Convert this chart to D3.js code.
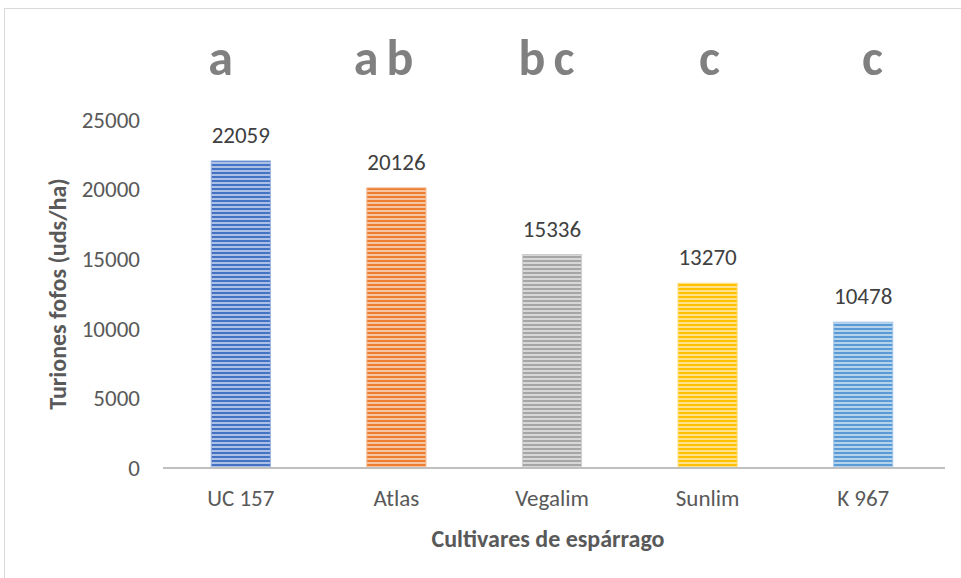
<!DOCTYPE html>
<html lang="en">
<head>
  <meta charset="utf-8">
  <title>Turiones fofos</title>
  <script src="https://d3js.org/d3.v7.min.js"></script>
  <style>
    body { margin: 0; background: #fff; }
    svg { font-family: Carlito, Calibri, "Open Sans", sans-serif; }
  </style>
</head>
<body>
<script>
  // data
  var cultivars = ["UC 157", "Atlas", "Vegalim", "Sunlim", "K 967"];
  var values = [22059, 20126, 15336, 13270, 10478];
  var letters = ["a", "ab", "bc", "c", "c"];
  var barColors = ["#4472C4", "#ED7D31", "#A5A5A5", "#FFC000", "#5B9BD5"];
  var yTicks = [0, 5000, 10000, 15000, 20000, 25000];

  var width = 961, height = 578;
  var font = "Carlito, Calibri, 'Open Sans', sans-serif";

  var svg = d3.select("body").append("svg")
      .attr("width", width)
      .attr("height", height);

  // chart border
  svg.append("rect")
      .attr("x", 4.5).attr("y", 8.5)
      .attr("width", 980).attr("height", 600)
      .attr("fill", "none")
      .attr("stroke", "#D9D9D9");

  var x = d3.scaleBand()
      .domain(cultivars)
      .range([163, 941])
      .paddingInner(0.62)
      .paddingOuter(0.31);

  // the letters row sits in its own, slightly wider text strip
  var xLetters = d3.scaleBand()
      .domain(cultivars)
      .range([139, 954]);

  var y = d3.scaleLinear()
      .domain([0, 25000])
      .range([468, 120]);

  // striped fills
  var defs = svg.append("defs");
  barColors.forEach(function(c, i) {
    var p = defs.append("pattern")
        .attr("id", "stripe" + i)
        .attr("patternUnits", "userSpaceOnUse")
        .attr("width", 8).attr("height", 4);
    p.append("rect").attr("width", 8).attr("height", 4)
        .attr("fill", d3.interpolateRgb(c, "#fff")(0.55));
    p.append("rect").attr("width", 8).attr("height", 2)
        .attr("fill", c);
  });

  // y axis labels
  var yAxis = svg.append("g")
      .attr("transform", "translate(150,0)")
      .call(d3.axisLeft(y).tickValues(yTicks).tickFormat(d3.format("d"))
        .tickSize(0).tickPadding(10));
  yAxis.select(".domain").remove();
  yAxis.selectAll("text")
      .attr("font-family", font)
      .attr("font-size", 23)
      .attr("fill", "#595959");

  // bars
  svg.append("g").selectAll("rect")
      .data(values)
      .enter().append("rect")
      .attr("x", function(d, i) { return x(cultivars[i]); })
      .attr("y", function(d) { return y(d); })
      .attr("width", x.bandwidth())
      .attr("height", function(d) { return y(0) - y(d); })
      .attr("fill", function(d, i) { return "url(#stripe" + i + ")"; })
      .attr("stroke", function(d, i) { return d3.interpolateRgb(barColors[i], "#fff")(0.45); })
      .attr("stroke-width", 1);

  // baseline
  svg.append("line")
      .attr("x1", 163).attr("x2", 945)
      .attr("y1", y(0)).attr("y2", y(0))
      .attr("stroke", "#BFBFBF")
      .attr("stroke-width", 2);

  // x axis labels
  var xAxis = svg.append("g")
      .attr("transform", "translate(0," + y(0) + ")")
      .call(d3.axisBottom(x).tickSize(0).tickPadding(22));
  xAxis.select(".domain").remove();
  xAxis.selectAll("text")
      .attr("font-family", font)
      .attr("font-size", 23)
      .attr("fill", "#595959");

  // value labels
  svg.append("g").selectAll("text")
      .data(values)
      .enter().append("text")
      .attr("x", function(d, i) { return x(cultivars[i]) + x.bandwidth() / 2; })
      .attr("y", function(d) { return y(d) - 18; })
      .attr("text-anchor", "middle")
      .attr("font-size", 23)
      .attr("fill", "#404040")
      .text(function(d) { return d; });

  // significance letters
  svg.append("g").selectAll("text")
      .data(letters)
      .enter().append("text")
      .attr("x", function(d, i) { return xLetters(cultivars[i]) + xLetters.bandwidth() / 2 + 4; })
      .attr("y", 75)
      .attr("text-anchor", "middle")
      .attr("font-size", 50)
      .attr("font-weight", "bold")
      .attr("letter-spacing", 8)
      .attr("fill", "#808080")
      .text(function(d) { return d; });

  // axis titles
  svg.append("text")
      .attr("transform", "translate(66,294) rotate(-90)")
      .attr("text-anchor", "middle")
      .attr("font-size", 24)
      .attr("font-weight", "bold")
      .attr("fill", "#595959")
      .text("Turiones fofos (uds/ha)");

  svg.append("text")
      .attr("x", 548).attr("y", 547)
      .attr("text-anchor", "middle")
      .attr("font-size", 24)
      .attr("font-weight", "bold")
      .attr("fill", "#595959")
      .text("Cultivares de espárrago");
</script>
</body>
</html>
